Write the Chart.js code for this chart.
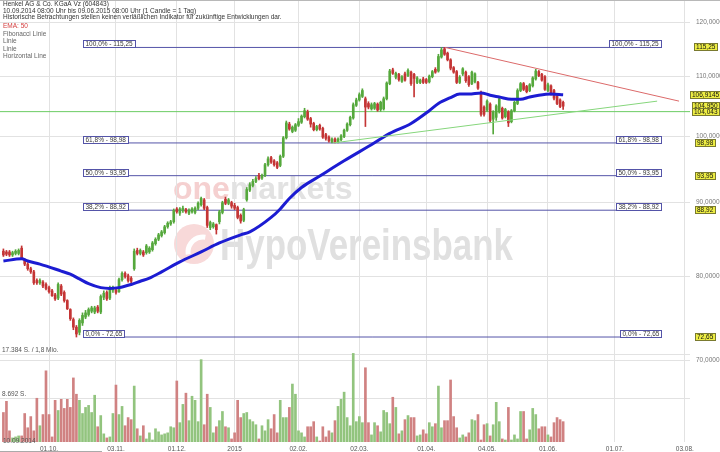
<!DOCTYPE html>
<html>
<head>
<meta charset="utf-8">
<title>Henkel AG & Co. KGaA Vz</title>
<script src="https://cdn.jsdelivr.net/npm/chart.js@4.4.1/dist/chart.umd.min.js"></script>
<style>
  html, body { margin: 0; padding: 0; background: #fff; }
  #wrap { width: 720px; height: 452px; }
</style>
</head>
<body>
<div id="wrap"><canvas id="chart" width="720" height="452"></canvas></div>
<script>
// Daily candles, 10.09.2014 - 09.06.2015 (one entry per trading day)
const openP = [
  83.3,83.2,83.2,82.8,83.0,83.0,83.7,82.2,81.6,81.0,
  80.6,79.5,79.2,79.3,79.0,78.6,78.2,77.7,77.3,78.8,
  78.0,77.0,75.9,74.7,73.8,73.2,74.3,75.0,75.3,75.7,
  75.6,76.2,75.6,77.4,78.0,77.3,78.3,78.3,78.1,79.6,
  80.4,80.1,79.8,81.0,83.4,83.0,83.2,83.1,83.2,83.5,
  84.3,84.9,85.4,85.8,86.6,87.0,87.3,89.1,88.5,88.9,
  89.0,88.5,88.7,88.6,89.2,89.7,90.4,89.3,86.5,86.6,
  86.9,87.3,88.6,90.5,89.9,90.0,89.6,89.3,88.2,87.5,
  90.4,91.8,92.5,93.1,94.0,93.6,94.0,95.6,96.7,96.2,
  95.9,95.5,96.9,99.8,102.0,100.8,101.0,101.8,102.3,103.2,
  104.0,102.9,102.1,101.1,101.8,101.3,100.3,99.9,99.2,99.6,
  99.1,99.5,100.0,101.0,101.9,103.0,105.1,106.0,106.6,106.2,
  105.4,104.5,104.6,105.3,104.4,104.5,106.2,108.8,111.2,109.9,
  110.4,109.2,110.5,110.2,110.8,110.4,109.0,109.0,109.6,109.5,
  109.1,110.0,111.3,111.0,113.5,115.0,114.2,113.0,111.6,110.9,
  109.0,110.5,110.8,110.0,108.8,109.1,109.0,107.3,104.8,104.3,
  105.3,102.8,103.1,104.0,104.6,103.2,104.0,102.4,104.2,105.4,
  107.6,108.8,108.3,107.6,108.4,109.6,110.9,110.4,110.0,107.6,
  108.4,107.6,106.6,106.0,105.6
];
const highP = [
  83.6,83.4,83.4,83.3,83.5,83.6,84.0,82.3,81.8,81.2,
  80.8,79.7,79.7,79.5,79.2,78.8,78.4,77.9,79.2,79.0,
  78.2,77.1,76.0,74.9,74.0,74.8,75.5,75.8,76.1,76.3,
  76.3,76.4,77.7,78.2,78.2,78.8,78.8,78.6,79.8,80.6,
  80.6,80.3,80.0,83.6,83.7,83.6,83.4,84.2,83.9,84.6,
  85.1,85.7,86.1,86.8,87.3,87.5,89.1,89.3,89.3,89.5,
  89.2,89.1,89.3,89.4,90.1,90.8,90.6,89.5,87.4,87.2,
  87.0,88.9,90.2,90.8,90.6,90.2,89.9,89.5,88.4,89.2,
  92.2,92.9,93.4,93.8,94.3,94.2,95.8,96.8,96.9,96.4,
  96.1,97.1,100.0,102.5,102.3,101.7,102.1,102.9,103.5,104.6,
  104.3,103.1,102.3,101.8,102.0,101.5,100.5,100.1,99.8,99.8,
  99.8,100.3,101.2,102.2,103.3,105.5,106.3,107.2,107.9,106.5,
  105.7,105.5,105.6,105.5,105.8,106.5,109.1,111.3,111.5,110.8,
  110.6,110.2,110.8,111.4,111.0,110.6,110.0,109.6,109.9,109.7,
  110.3,111.1,111.6,114.0,115.25,115.25,114.4,113.2,111.8,111.1,
  110.2,111.6,111.0,110.2,111.0,110.7,109.2,107.5,105.0,106.0,
  105.5,104.2,105.2,106.4,104.8,104.6,104.2,104.4,105.8,107.9,
  109.0,109.0,108.5,108.8,110.0,111.3,111.1,110.6,110.2,108.9,
  108.6,107.8,106.8,106.2,105.8
];
const lowP = [
  82.6,82.7,82.6,82.6,82.8,82.8,82.3,81.4,80.8,80.4,
  79.0,79.0,79.0,78.6,78.3,77.9,77.5,77.0,77.1,77.6,
  76.8,75.9,74.6,73.5,72.65,72.9,74.0,74.8,75.1,75.5,
  75.4,75.5,75.4,77.1,77.0,77.1,78.0,77.8,78.0,79.4,
  79.8,79.3,79.2,80.8,82.8,82.8,82.6,82.9,83.0,83.3,
  84.1,84.7,85.2,85.6,86.4,86.8,87.1,88.5,88.2,88.6,
  88.5,88.3,88.5,88.4,89.0,89.5,89.0,86.5,86.2,86.4,
  85.6,87.0,88.4,89.7,89.7,89.2,89.0,87.7,87.1,87.3,
  90.2,91.6,92.3,92.9,93.3,93.4,93.8,95.4,95.8,95.4,
  95.0,95.3,96.7,99.6,101.0,100.6,100.8,101.6,102.1,103.0,
  102.6,101.5,100.9,100.9,101.0,99.7,99.4,99.1,99.0,98.98,
  99.0,99.3,99.8,100.8,101.7,102.8,104.9,105.8,106.4,101.6,
  104.5,104.3,104.4,104.1,104.1,104.3,106.0,108.6,110.4,109.6,
  109.2,109.0,109.2,110.0,108.5,106.5,108.8,108.8,108.8,108.8,
  108.9,109.8,110.6,110.8,113.3,113.8,112.8,111.2,110.6,108.8,
  108.8,110.2,109.0,108.3,108.6,108.9,107.8,103.3,103.3,104.1,
  102.3,100.4,102.6,103.8,102.8,103.0,101.6,102.2,104.0,105.2,
  107.4,107.6,107.2,107.4,108.2,109.4,110.0,109.2,107.6,107.4,
  106.8,106.0,105.2,104.7,104.4
];
const closeP = [
  82.8,82.9,82.8,83.1,83.3,83.4,82.4,81.6,81.0,80.6,
  79.2,79.2,79.5,78.8,78.5,78.1,77.6,77.2,79.0,77.8,
  77.0,76.0,74.8,73.8,73.0,74.6,75.2,75.5,75.9,76.1,
  76.1,75.7,77.5,77.9,77.2,78.6,78.6,78.0,79.6,80.4,
  80.0,79.5,79.4,83.3,83.0,83.4,82.8,84.0,83.7,84.4,
  84.9,85.5,85.9,86.6,87.1,87.3,88.9,88.7,89.1,89.2,
  88.7,88.9,89.1,89.2,89.9,90.6,89.2,86.8,87.2,87.0,
  86.2,88.7,90.0,89.9,90.4,89.5,89.2,87.9,87.4,89.0,
  91.9,92.6,93.1,93.5,93.5,94.0,95.6,96.5,96.0,95.6,
  95.2,96.9,99.8,102.2,101.2,101.5,101.9,102.4,103.3,104.2,
  102.8,102.0,101.1,101.6,101.2,99.9,99.7,99.3,99.6,99.1,
  99.6,100.1,101.0,102.0,103.1,105.2,106.0,106.9,107.6,104.8,
  104.8,105.2,105.4,104.3,105.6,106.2,108.9,111.0,110.6,110.6,
  109.5,110.0,109.4,111.1,108.8,109.7,109.8,109.4,109.0,109.0,
  110.1,110.9,110.8,113.6,114.8,114.0,113.0,111.5,110.8,109.0,
  109.9,111.4,109.3,108.6,110.8,110.5,108.0,103.6,103.6,105.8,
  102.6,104.0,105.0,106.2,103.0,104.4,102.2,104.2,105.6,107.6,
  108.8,107.8,107.4,108.6,109.8,111.0,110.2,109.4,107.8,108.6,
  107.0,106.3,105.4,104.9,104.95
];
// Volume (shares per day)
const volumes = [
  5860,8080,2220,810,1010,1210,1210,5660,2830,5050,
  2220,8690,3230,5450,14140,5450,1010,8280,6260,8480,
  6670,8480,6870,12730,9490,8280,5660,6870,7270,5860,
  9290,3030,5250,1620,810,1010,5660,11310,5450,7070,
  3230,4850,4440,11110,2630,1210,3230,610,1820,400,
  2630,2020,1410,1620,1820,3030,2830,12120,3840,7470,
  9700,4240,9090,8280,4040,16360,3430,9490,6870,1820,
  3030,4240,6060,3030,2830,610,1820,8280,4850,5660,
  5860,4440,4040,3430,610,3230,2220,4440,2630,5450,
  1820,8280,4850,4850,6870,11510,9490,2220,1820,1010,
  3030,3030,4040,1010,200,3030,1010,2220,1820,4240,
  7070,8480,9900,4850,3230,17600,4040,5050,3840,14750,
  3840,1410,3840,3230,2020,6260,5860,3640,8890,6870,
  1620,2220,4440,5250,4850,4850,1210,1410,2420,1620,
  3840,3030,3640,11110,2830,4240,4240,12320,5050,2830,
  810,1410,1010,1820,4440,4240,5450,400,3430,3640,
  1210,3430,7880,4040,610,400,6870,400,1410,610,
  6060,6060,610,2420,6670,5450,2630,3030,3030,1410,
  1010,3840,4850,4440,4040
];

// EMA 50 at a few trading days
const emaIdx = [0, 6, 8, 12, 19, 22, 25, 28, 32, 35, 38, 42, 45, 48, 52, 58, 65, 71, 78, 81,
  88, 91, 94, 98, 104, 112, 122, 127, 134, 140, 143, 147, 150, 153, 157, 160, 163, 167, 170,
  173, 176, 180, 184];
const emaVal = [82.0, 82.3, 82.0, 81.6, 80.7, 80.3, 79.7, 79.1, 78.6, 78.5, 78.6, 79.0, 79.4,
  79.8, 80.6, 81.9, 83.2, 84.4, 85.5, 85.9, 87.9, 89.1, 90.6, 92.2, 93.9, 96.2, 99.0, 100.5,
  102.1, 104.2, 105.4, 106.4, 107.0, 107.0, 107.2, 106.8, 106.5, 106.1, 106.1, 106.5, 106.8,
  107.0, 106.9];

// Fibonacci retracement (anchors in trading-day index)
const fibPct = ['100,0%', '61,8%', '50,0%', '38,2%', '0,0%'];
const fibVals = [115.25, 98.98, 93.95, 88.92, 72.65];
const fibFrom = 26.2;
const fibTo = 216.2;

// drawn lines
const redTrendX = [145.2, 222.1];
const redTrendY = [115.25, 105.8];
const greenTrendX = [108.4, 214.9];
const greenTrendY = [98.98, 105.8];
const hLineValue = 104.043;

// price markers on the right axis
const markerVals = [115.25, 106.9145, 104.95, 104.043, 98.98, 93.95, 88.92, 72.65];
const markerText = ['115,25', '106,9145', '104,950', '104,043', '98,98', '93,95', '88,92', '72,65'];

// axes
const tickIdx = [15, 37, 57, 76, 97, 117, 139, 159, 179, 201, 224];
const tickLabels = ['01.10.', '03.11.', '01.12.', '2015', '02.02.', '02.03.', '01.04.', '04.05.', '01.06.', '01.07.', '03.08.'];
const priceTicks = [70, 80, 90, 100, 110, 120];
const volTicks = [8692, 17384];
const volTickLabels = ['8.692 S.', '17.384 S. / 1,8 Mio.'];

const titleLines = [
  'Henkel AG & Co. KGaA Vz (604843)',
  '10.09.2014 08:00 Uhr bis 09.06.2015 08:00 Uhr (1 Candle = 1 Tag)',
  'Historische Betrachtungen stellen keinen verläßlichen Indikator für zukünftige Entwicklungen dar.'
];
const legendLines = ['EMA: 50', 'Fibonacci Linie', 'Linie', 'Linie', 'Horizontal Line'];
const startLabel = '10.09.2014';

const FONT = '"Liberation Sans", Arial, sans-serif';
const GRID = '#e2e2e2';
const FIB_COLOR = '#5454a8';
const UP = '#55a83c', DOWN = '#c43535';
const VOL_UP = '#92c47e', VOL_DOWN = '#d08282';

function deNum(v, d) { return v.toFixed(d).replace('.', ','); }
// keep the plot area flush with the canvas edges
function noPad(s) { s.paddingTop = 0; s.paddingBottom = 0; s.paddingLeft = 0; s.paddingRight = 0; }

const idx = closeP.map((_, i) => i);
const isUp = i => closeP[i] >= openP[i];

// watermark, header, fib boxes and price markers
const overlay = {
  id: 'overlay',
  beforeDraw(chart) {
    const ctx = chart.ctx;
    ctx.save();
    ctx.textBaseline = 'alphabetic';
    ctx.font = 'bold 32px ' + FONT;
    ctx.fillStyle = '#f5d0d0';
    ctx.fillText('one', 173, 199);
    const w1 = ctx.measureText('one').width;
    ctx.fillStyle = '#e2e2e2';
    ctx.fillText('markets', 173 + w1, 199);

    ctx.beginPath();
    ctx.arc(194, 244, 20, 0, Math.PI * 2);
    ctx.fillStyle = '#f8d9d9';
    ctx.fill();
    ctx.beginPath();
    ctx.arc(203, 252, 15, Math.PI * 0.95, Math.PI * 1.55);
    ctx.strokeStyle = '#ffffff';
    ctx.lineWidth = 5;
    ctx.stroke();

    ctx.font = 'bold 45px ' + FONT;
    const txt = 'HypoVereinsbank';
    const w2 = ctx.measureText(txt).width;
    ctx.translate(220, 260);
    ctx.scale(293 / w2, 1);
    ctx.fillStyle = '#e0e0e0';
    ctx.fillText(txt, 0, 0);
    ctx.restore();
  },
  afterDatasetsDraw(chart) {
    const { ctx, scales: { x, y } } = chart;
    ctx.save();
    ctx.font = '6.5px ' + FONT;
    ctx.textBaseline = 'middle';
    ctx.lineWidth = 1;
    const xl = Math.round(x.getPixelForValue(fibFrom)) + 0.5;
    const xr = Math.round(x.getPixelForValue(fibTo)) + 0.5;
    fibVals.forEach((v, k) => {
      const py = Math.round(y.getPixelForValue(v)) + 0.5;
      const text = fibPct[k] + ' - ' + deNum(v, 2);
      const w = Math.ceil(ctx.measureText(text).width) + 4;
      [xl, xr - w].forEach(bx => {
        ctx.fillStyle = '#ffffff';
        ctx.fillRect(bx, py - 7, w, 7);
        ctx.strokeStyle = FIB_COLOR;
        ctx.strokeRect(bx, py - 7, w, 7);
        ctx.fillStyle = '#3a3a3a';
        ctx.fillText(text, bx + 2, py - 3.3);
      });
    });
    ctx.restore();
  },
  afterDraw(chart) {
    const { ctx, scales: { y } } = chart;
    ctx.save();
    // top border
    ctx.strokeStyle = '#b8b8b8';
    ctx.lineWidth = 1;
    ctx.beginPath(); ctx.moveTo(0, 0.5); ctx.lineTo(720, 0.5); ctx.stroke();

    ctx.font = '6.5px ' + FONT;
    ctx.textBaseline = 'middle';
    ctx.fillStyle = '#333333';
    [4.7, 10.8, 17.3].forEach((ty, k) => ctx.fillText(titleLines[k], 3, ty));
    [26.3, 34, 41.7, 49.3, 56.7].forEach((ty, k) => {
      ctx.fillStyle = k === 0 ? '#d43c3c' : '#666666';
      ctx.fillText(legendLines[k], 3, ty);
    });

    // yellow price markers
    markerVals.forEach((v, k) => {
      const py = Math.round(y.getPixelForValue(v));
      const w = Math.ceil(ctx.measureText(markerText[k]).width) + 3;
      const bx = Math.round(705 - w / 2) + 0.5;
      ctx.fillStyle = '#eeee44';
      ctx.fillRect(bx, py - 3.5, w, 7);
      ctx.strokeStyle = '#7a7a30';
      ctx.strokeRect(bx, py - 3.5, w, 7);
      ctx.fillStyle = '#111111';
      ctx.fillText(markerText[k], bx + 1.5, py + 0.2);
    });

    ctx.fillStyle = '#555555';
    ctx.fillText(startLabel, 3, 441);
    ctx.strokeStyle = '#aaaaaa';
    ctx.beginPath(); ctx.moveTo(0, 451.5); ctx.lineTo(102, 451.5); ctx.stroke();
    ctx.restore();
  }
};

const fibSets = fibVals.map(v => ({
  type: 'line',
  data: [{ x: fibFrom, y: v }, { x: fibTo, y: v }],
  borderColor: FIB_COLOR, borderWidth: 1, pointRadius: 0, yAxisID: 'y', order: 6
}));

new Chart(document.getElementById('chart'), {
  type: 'bar',
  data: {
    datasets: [
      {
        label: 'Volumen',
        data: idx.map(i => ({ x: i, y: volumes[i] })),
        backgroundColor: idx.map(i => isUp(i) ? VOL_UP : VOL_DOWN),
        barThickness: 2, grouped: false, yAxisID: 'vol', order: 10
      },
      ...fibSets,
      {
        type: 'line',
        data: [{ x: -2, y: hLineValue }, { x: 226, y: hLineValue }],
        borderColor: '#6ccc64', borderWidth: 1, pointRadius: 0, yAxisID: 'y', order: 5
      },
      {
        label: 'Docht',
        data: idx.map(i => ({ x: i, y: [lowP[i], highP[i]] })),
        backgroundColor: idx.map(i => isUp(i) ? UP : DOWN),
        barThickness: 1, grouped: false, yAxisID: 'y', order: 3
      },
      {
        label: 'Kerze',
        data: idx.map(i => ({ x: i, y: [openP[i], closeP[i]] })),
        backgroundColor: idx.map(i => isUp(i) ? UP : DOWN),
        barThickness: 2, grouped: false, yAxisID: 'y', order: 2
      },
      {
        type: 'line', label: 'EMA: 50',
        data: emaIdx.map((d, k) => ({ x: d, y: emaVal[k] })),
        borderColor: '#1c1cd2', borderWidth: 3, pointRadius: 0,
        cubicInterpolationMode: 'monotone', yAxisID: 'y', order: 1
      },
      {
        type: 'line',
        data: redTrendX.map((d, k) => ({ x: d, y: redTrendY[k] })),
        borderColor: '#dc6a6a', borderWidth: 1, pointRadius: 0, yAxisID: 'y', order: 0
      },
      {
        type: 'line',
        data: greenTrendX.map((d, k) => ({ x: d, y: greenTrendY[k] })),
        borderColor: '#86d67c', borderWidth: 1, pointRadius: 0, yAxisID: 'y', order: 0
      }
    ]
  },
  options: {
    responsive: false,
    animation: false,
    devicePixelRatio: 1,
    events: [],
    layout: { padding: { left: 0, right: 0, top: 0, bottom: 1 } },
    plugins: { legend: { display: false }, tooltip: { enabled: false } },
    scales: {
      x: {
        type: 'linear', min: -1.12, max: 225.7, offset: false,
        grid: { color: GRID, drawTicks: false, offset: false },
        border: { display: false },
        afterBuildTicks: s => { s.ticks = tickIdx.map(v => ({ value: v })); },
        afterFit: s => { s.height = 9; noPad(s); },
        ticks: {
          autoSkip: false, maxRotation: 0, padding: 3, color: '#555',
          font: { size: 6.5, family: FONT },
          callback: v => tickLabels[tickIdx.indexOf(v)]
        }
      },
      y: {
        type: 'logarithmic', position: 'right', min: 61.46, max: 124.3,
        grid: { color: GRID, drawTicks: false },
        border: { display: false },
        afterBuildTicks: s => { s.ticks = priceTicks.map(v => ({ value: v })); },
        afterFit: s => { s.width = 30; noPad(s); },
        ticks: {
          padding: 6, color: '#777', font: { size: 6.5, family: FONT },
          callback: v => deNum(v, 4)
        }
      },
      vol: {
        type: 'linear', position: 'left', min: 0, max: 87800,
        grid: { color: GRID, drawTicks: false },
        border: { display: false },
        afterBuildTicks: s => { s.ticks = volTicks.map(v => ({ value: v })); },
        afterFit: s => { s.width = 0; noPad(s); },
        ticks: {
          mirror: true, padding: 2, labelOffset: -4, color: '#555',
          font: { size: 6.5, family: FONT },
          callback: v => volTickLabels[volTicks.indexOf(v)]
        }
      }
    }
  },
  plugins: [overlay]
});
</script>
</body>
</html>
